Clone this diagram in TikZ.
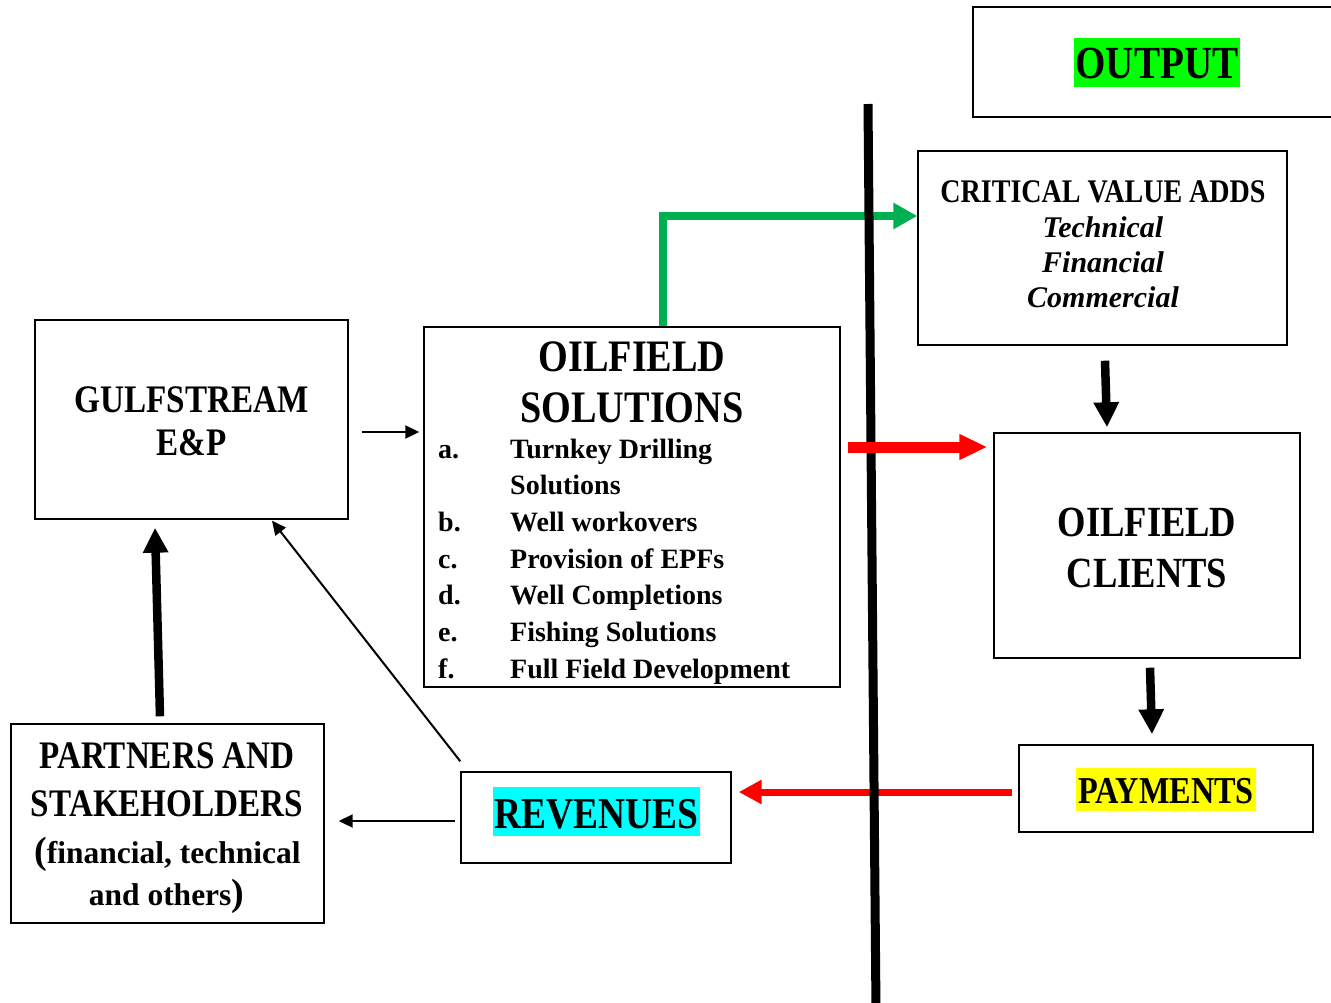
\documentclass[tikz,border=0pt]{standalone}
\usepackage{fontspec}
\setmainfont{Liberation Serif}
\newfontfamily\capsfont{Liberation Serif}[FakeStretch=0.85]
\usetikzlibrary{arrows.meta}
\definecolor{arrowgreen}{HTML}{00B050}
\definecolor{markgreen}{HTML}{00FF00}
\definecolor{markcyan}{HTML}{00FFFF}
\definecolor{markyellow}{HTML}{FFFF00}
\newcommand{\fsz}[2]{\fontsize{#1}{#2}\selectfont}

\begin{document}
\begin{tikzpicture}[x=1pt,y=-1pt,
    box/.style={draw=black, line width=1.4pt, rectangle},
    capstxt/.style={anchor=base, font=\capsfont\bfseries\fsz{#1}{#1}},
    listtxt/.style={anchor=base west, font=\bfseries\fsz{28}{34}},
    valtxt/.style={anchor=base, font=\bfseries\itshape\fsz{30}{35}},
    thinarr/.style={-{Triangle[length=14pt,width=13pt]}, line width=2pt},
    blkarr/.style={-{Triangle[length=25pt,width=24pt]}, line width=8.5pt},
    greenarr/.style={-{Triangle[length=24pt,width=25pt]}, line width=7.5pt, arrowgreen},
    redarr/.style={-{Triangle[#1]}, red}]
                \tikzstyle{every node}+=[inner sep=0pt]
                \useasboundingbox (0,0) rectangle (1331,1002);
                % boxes
                \node[box, minimum width=372pt, minimum height=110pt] (output) at (1159,62) {};
                \node[capstxt=46, fill=markgreen, inner xsep=2pt, text height=40pt, text depth=9pt] (outtxt) at (1157,78) {OUTPUT};
                \node[box, minimum width=313pt, minimum height=199pt] (gulf) at (191.5,419.5) {};
                \node[capstxt=39] (gulftop) at (191.5,412) {GULFSTREAM};
                \node[capstxt=39] (gulfbot) at (191.5,455) {E\&P};
                \node[box, minimum width=416pt, minimum height=360pt] (sol) at (632,507) {};
                \node[capstxt=45] (soltop) at (632,371) {OILFIELD};
                \node[capstxt=45] (solbot) at (632,422) {SOLUTIONS};
                \node[listtxt] (lbla) at (438,458) {a.};
                \node[listtxt] (itema) at (510,458) {Turnkey Drilling};
                \node[listtxt] (itemaa) at (510,494.7) {Solutions};
                \node[listtxt] (lblb) at (438,531.3) {b.};
                \node[listtxt] (itemb) at (510,531.3) {Well workovers};
                \node[listtxt] (lblc) at (438,568) {c.};
                \node[listtxt] (itemc) at (510,568) {Provision of EPFs};
                \node[listtxt] (lbld) at (438,604.7) {d.};
                \node[listtxt] (itemd) at (510,604.7) {Well Completions};
                \node[listtxt] (lble) at (438,641.3) {e.};
                \node[listtxt] (iteme) at (510,641.3) {Fishing Solutions};
                \node[listtxt] (lblf) at (438,678) {f.};
                \node[listtxt] (itemf) at (510,678) {Full Field Development};
                \node[box, minimum width=369pt, minimum height=194pt] (crit) at (1102.5,248) {};
                \node[capstxt=33] (crittop) at (1103,202) {CRITICAL VALUE ADDS};
                \node[valtxt] (crita) at (1103,237) {Technical};
                \node[valtxt] (critb) at (1103,272) {Financial};
                \node[valtxt] (critc) at (1103,307) {Commercial};
                \node[box, minimum width=306pt, minimum height=225pt] (clients) at (1147,545.5) {};
                \node[capstxt=43] (clitop) at (1147,536) {OILFIELD};
                \node[capstxt=43] (clibot) at (1147,587) {CLIENTS};
                \node[box, minimum width=294pt, minimum height=87pt] (pay) at (1166,788.5) {};
                \node[capstxt=38, fill=markyellow, inner xsep=2pt, text height=35pt, text depth=8pt] (paytxt) at (1166,803) {PAYMENTS};
                \node[box, minimum width=270pt, minimum height=91pt] (rev) at (596,817.5) {};
                \node[capstxt=44, fill=markcyan, inner xsep=2pt, text height=41pt, text depth=8pt] (revtxt) at (596.5,828) {REVENUES};
                \node[box, minimum width=313pt, minimum height=199pt] (partners) at (167.5,823.5) {};
                \node[capstxt=39] (parta) at (167,768) {PARTNERS AND};
                \node[capstxt=39] (partb) at (167,816) {STAKEHOLDERS};
                \node[anchor=base, font=\bfseries\fsz{31.5}{36}] (partc) at (167.5,863) {{\fsz{38}{38}(}financial, technical};
                \node[anchor=base, font=\bfseries\fsz{31.5}{36}] (partd) at (166.5,905) {and others{\fsz{38}{38})}};
                % arrows
                \draw[greenarr] ([xshift=31pt]sol.north) |- ([yshift=32pt]crit.west);
                \draw[redarr={length=23pt,width=23pt}, line width=7pt] ([shift={(-6,3.5)}]pay.west) -- ([shift={(7,-25.5)}]rev.east);
                \draw[line width=9pt] (868,104) -- (876,1010);
                \draw[redarr={length=28pt,width=24pt}, line width=11pt] ([shift={(7,-60)}]sol.east) -- ([shift={(-6,-98.5)}]clients.west);
                \draw[thinarr] ([shift={(13,12.5)}]gulf.east) -- ([shift={(-4,-75)}]sol.west);
                \draw[blkarr] ([shift={(2.5,15)}]crit.south) -- ([shift={(-40,-5)}]clients.north);
                \draw[blkarr] ([shift={(3,9)}]clients.south) -- ([shift={(-14,-10)}]pay.north);
                \draw[thinarr] ([shift={(-5,3.5)}]rev.west) -- ([shift={(14,-2.5)}]partners.east);
                \draw[thinarr] ([shift={(0,-10)}]rev.north west) -- ([shift={(80.5,1)}]gulf.south);
                \draw[blkarr] ([shift={(-7.5,-7)}]partners.north) -- ([shift={(-36.5,8)}]gulf.south);
\end{tikzpicture}
\end{document}
